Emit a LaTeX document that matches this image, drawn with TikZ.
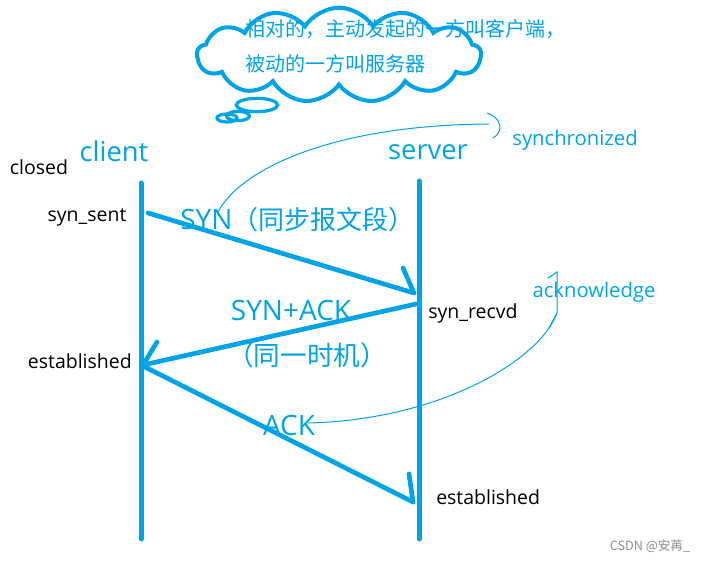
\documentclass[tikz,border=0pt]{standalone}
\usepackage{fontspec}
\setmainfont{Noto Sans CJK SC}
\newfontfamily\latinf{Open Sans}
\usetikzlibrary{shapes.symbols,shapes.geometric}
\definecolor{pblue}{RGB}{0,162,232}
\begin{document}
\begin{tikzpicture}[x=0.75pt,y=-0.75pt,
  lifeline/.style={pblue,line width=3.75pt,line cap=round},
  msg/.style={pblue,line width=3.5pt,line cap=round,line join=round},
  thinline/.style={pblue,line width=0.75pt},
  blk/.style={font=\latinf\fontsize{14.6}{17}\selectfont,text=black,inner sep=0pt},
  role/.style={font=\latinf\fontsize{20.5}{24}\selectfont,text=pblue,inner sep=0pt},
  msglbl/.style={font=\fontsize{20}{22}\selectfont,text=pblue,inner sep=0pt},
  note/.style={font=\latinf\fontsize{15.2}{17}\selectfont,text=pblue,inner sep=0pt},
  cloudtxt/.style={font=\fontsize{15}{17}\selectfont,text=pblue,inner sep=0pt,anchor=west},
  bubble/.style={ellipse,draw=pblue,line width=2.4pt,inner sep=0pt}]
\useasboundingbox (0,0) rectangle (706,561);

% thought cloud
\node[cloud,draw=pblue,line width=3pt,cloud puffs=13,cloud puff arc=115,aspect=3,
  minimum width=213pt,minimum height=71pt] (cloud) at (339,55) {};
\node[bubble,minimum width=31pt,minimum height=10pt] (b1) at (257,105) {};
\node[bubble,minimum width=17pt,minimum height=7pt] (b2) at (238,116) {};
\node[bubble,minimum width=15pt,minimum height=6pt] (b3) at (227,118) {};
\node[cloudtxt] (c1) at (245,29) {相对的，主动发起的一方叫客户端，};
\node[cloudtxt] (c2) at (245,64) {被动的一方叫服务器};

% roles
\node[role] (client) at (114,151) {client};
\node[role] (server) at (428,152) {server};

% lifelines
\coordinate (cTop) at (141,183);
\coordinate (cBot) at (141,539);
\coordinate (sTop) at (419,181);
\coordinate (sBot) at (419,539);
\draw[lifeline] (cTop) -- (cBot);
\draw[lifeline] (sTop) -- (sBot);

% state labels
\node[blk] (closed) at (39,167) {closed};
\node[blk] (synsent) at (87,217) {syn\_sent};
\node[blk,anchor=west] (synrecvd) at (428,313) {syn\_recvd};
\node[blk,anchor=east] (estc) at (132,361) {established};
\node[blk,anchor=west] (ests) at (436,497) {established};

% messages
\coordinate (m1s) at (148,213);
\coordinate (m1e) at (414,293);
\coordinate (m1b) at (403,268);
\draw[msg] (m1s) -- (m1e);
\draw[msg] (m1b) -- (m1e);

\coordinate (m2s) at (416,304);
\coordinate (m2e) at (143,365);
\coordinate (m2b) at (157,342);
\draw[msg] (m2s) -- (m2e);
\draw[msg] (m2b) -- (m2e);

\coordinate (m3s) at (143,366);
\coordinate (m3e) at (413,502);
\coordinate (m3b) at (409,474);
\draw[msg] (m3s) -- (m3e);
\draw[msg] (m3b) -- (m3e);

\node[msglbl,anchor=west] (syn) at (180,220) {{\latinf\fontsize{21}{22}\selectfont SYN}\fontsize{19.5}{22}\selectfont（同步报文段）};
\node[msglbl,font=\latinf\fontsize{21}{22}\selectfont] (synack) at (291,310) {SYN+ACK};
\node[msglbl] (same) at (307,355) {（同一时机）};
\node[msglbl,font=\latinf\fontsize{21}{22}\selectfont] (ack) at (289,425) {ACK};

% annotations
\node[note] (synch) at (575,140) {synchronized};
\node[note] (ackn) at (594,292) {acknowledge};

\coordinate (br1a) at (487,113);
\coordinate (br1b) at (493,138);
\coordinate (sA) at (489,124);
\coordinate (sB) at (218,212);
\draw[thinline] (br1a) .. controls (502,118) and (504,132) .. (br1b);
\draw[thinline] (sA) .. controls (330,125) and (240,170) .. (sB);

\coordinate (br2a) at (548,278);
\coordinate (br2t) at (557,272);
\coordinate (br2m) at (557,313);
\coordinate (br2b) at (549,328);
\coordinate (aB) at (308,423);
\draw[thinline] (br2a) -- (br2t) -- (br2m) -- (br2b);
\draw[thinline] (br2m) .. controls (540,360) and (440,420) .. (aB);

% watermark
\node[font=\fontsize{9.5}{11}\selectfont,text=black!45,inner sep=0pt] (wm) at (650,546) {CSDN @安苒\_};
\end{tikzpicture}
\end{document}
